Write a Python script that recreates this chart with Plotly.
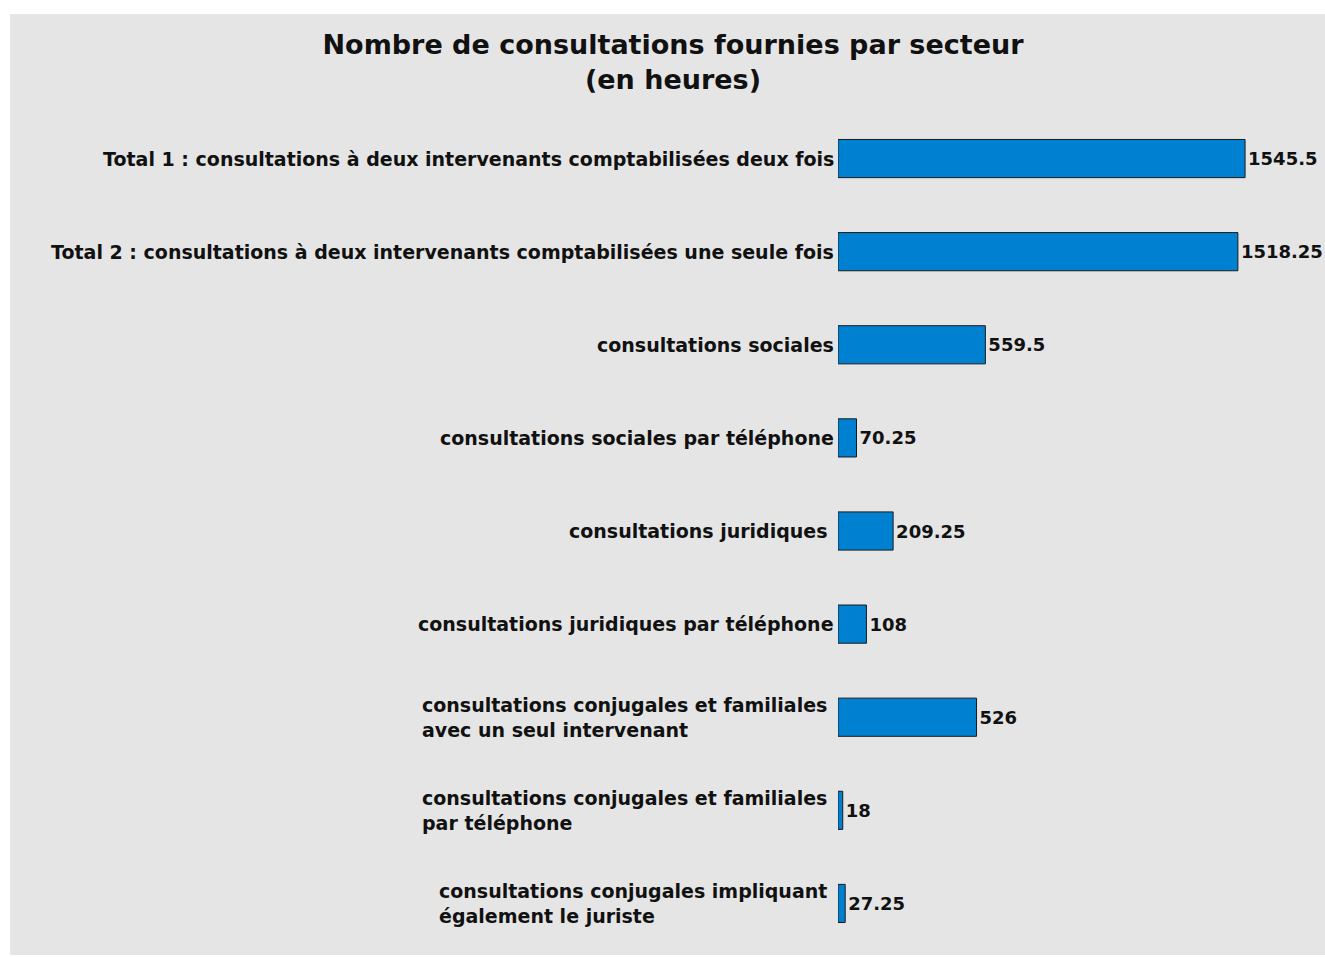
import plotly.graph_objects as go

categories = [
    "Total 1 : consultations à deux intervenants comptabilisées deux fois",
    "Total 2 : consultations à deux intervenants comptabilisées une seule fois",
    "consultations sociales",
    "consultations sociales par téléphone",
    "consultations juridiques\u00a0",
    "consultations juridiques par téléphone",
    "consultations conjugales et familiales\u00a0<br>avec un seul intervenant",
    "consultations conjugales et familiales\u00a0<br>par téléphone",
    "consultations conjugales impliquant\u00a0<br>également le juriste",
]
values = [1545.5, 1518.25, 559.5, 70.25, 209.25, 108, 526, 18, 27.25]
value_labels = ["1545.5", "1518.25", "559.5", "70.25", "209.25", "108", "526", "18", "27.25"]

GRAY = "#e5e5e5"
BAR = "#0080d0"
FONT = "DejaVu Sans"
W, H = 1325, 957

ids = list(range(len(categories)))

fig = go.Figure()
fig.add_trace(go.Bar(
    x=values,
    y=ids,
    orientation="h",
    width=0.41,
    marker=dict(color=BAR, line=dict(color="#1a1a1a", width=1)),
    text=value_labels,
    textposition="outside",
    textfont=dict(family=FONT, size=18, color="#111111", weight="bold"),
    cliponaxis=False,
    hoverinfo="x+y",
))

for i, c in zip(ids, categories):
    fig.add_annotation(
        x=0, y=i, xref="x", yref="y",
        text=c, showarrow=False,
        xanchor="right", yanchor="middle", align="left",
        xshift=-2,
        font=dict(family=FONT, size=19, color="#111111", weight="bold"),
    )

# gray background panel
fig.add_shape(type="rect", xref="paper", yref="paper",
              x0=-1.70, x1=1.0, y0=-0.006, y1=1.117,
              fillcolor=GRAY, line=dict(width=0), layer="below")

fig.update_layout(
    width=W, height=H,
    margin=dict(l=838, r=0, t=112, b=7),
    paper_bgcolor="white",
    plot_bgcolor=GRAY,
    showlegend=False,
    title=dict(
        text="Nombre de consultations fournies par secteur<br>(en heures)",
        x=673 / W, xanchor="center",
        y=1 - 54 / H, yanchor="middle",
        font=dict(family=FONT, size=27, color="#111111", weight="bold"),
    ),
    xaxis=dict(range=[0, 1849], visible=False, fixedrange=True),
    yaxis=dict(range=[len(categories) - 0.5, -0.5], visible=False, fixedrange=True),
)

fig.write_html(
    "out.html",
    config={"displayModeBar": False},
    post_script="document.body.style.margin='0';"
                "document.documentElement.style.overflow='hidden';"
                "document.body.style.overflow='hidden';",
)
